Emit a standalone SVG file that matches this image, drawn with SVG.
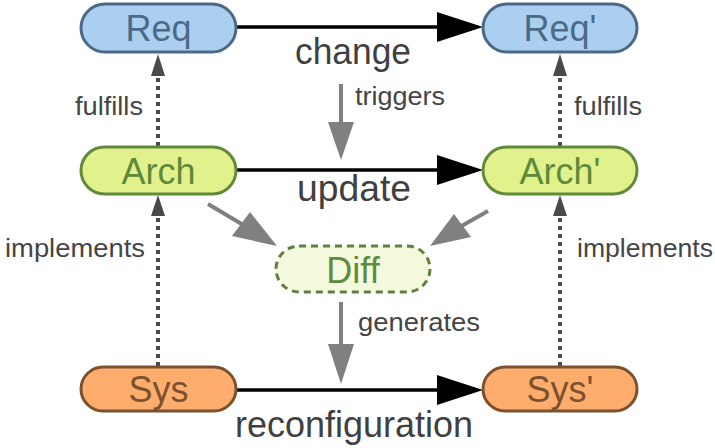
<svg xmlns="http://www.w3.org/2000/svg" width="715" height="448" viewBox="0 0 715 448">
<style>
text{font-family:"Liberation Sans",Arial,sans-serif}
.req rect{fill:#abd0ef;stroke:#4c6a88;stroke-width:3}
.req text{fill:#4c6a88}
.arch rect{fill:#e1f28d;stroke:#628a3c;stroke-width:3}
.arch text{fill:#5e8a3a}
.sys rect{fill:#ffad6d;stroke:#7b5230;stroke-width:3}
.sys text{fill:#7b5230}
.diff rect{fill:#f4f9de;stroke:#5f8040;stroke-width:3;stroke-dasharray:7 5}
.diff text{fill:#5f8c3c}
.nt{font-size:36px;text-anchor:middle}
.big{font-size:36px;fill:#404040;text-anchor:middle}
.sm{font-size:26.5px;fill:#454545}
.blk{stroke:#000;stroke-width:3.5;fill:none}
.dot{stroke:#4a4a4a;stroke-width:4;stroke-dasharray:4 4;fill:none}
.gry{stroke:#808080;stroke-width:4;fill:none}
</style>
<g id="connectors">
<line class="blk" x1="236" y1="27" x2="440" y2="27"/>
<polygon points="437,12 483,27 437,42" fill="#000"/>
<line class="blk" x1="236" y1="170" x2="440" y2="170"/>
<polygon points="437,155 483,170 437,185" fill="#000"/>
<line class="blk" x1="236" y1="390" x2="440" y2="390"/>
<polygon points="437,375 483,390 437,405" fill="#000"/>
<line class="dot" x1="158" y1="146" x2="158" y2="74"/>
<polygon points="151,76 158,54 165,76" fill="#4a4a4a"/>
<line class="dot" x1="158" y1="366" x2="158" y2="214"/>
<polygon points="151,216 158,195 165,216" fill="#4a4a4a"/>
<line class="dot" x1="560" y1="146" x2="560" y2="74"/>
<polygon points="553,76 560,54 567,76" fill="#4a4a4a"/>
<line class="dot" x1="560" y1="366" x2="560" y2="214"/>
<polygon points="553,216 560,195 567,216" fill="#4a4a4a"/>
<line class="gry" x1="341" y1="84" x2="341" y2="126"/>
<polygon points="328,122 341,160 354,122" fill="#808080"/>
<line class="gry" x1="341" y1="302" x2="341" y2="348"/>
<polygon points="328,344 341,384 354,344" fill="#808080"/>
<line class="gry" x1="208" y1="204" x2="245" y2="226"/>
<polygon points="232,236 277,246 250,212" fill="#808080"/>
<line class="gry" x1="488" y1="211" x2="458" y2="228"/>
<polygon points="430,246 471,237 454,214" fill="#808080"/>
</g>
<g id="req" class="req"><rect x="81" y="4" width="155" height="48" rx="24"/><text class="nt" x="158.5" y="41">Req</text></g>
<g id="req2" class="req"><rect x="483" y="4" width="154" height="48" rx="24"/><text class="nt" x="560" y="41">Req'</text></g>
<g id="arch" class="arch"><rect x="81" y="147" width="155" height="47" rx="23.5"/><text class="nt" x="158.5" y="184">Arch</text></g>
<g id="arch2" class="arch"><rect x="483" y="147" width="154" height="47" rx="23.5"/><text class="nt" x="560" y="184">Arch'</text></g>
<g id="diff" class="diff"><rect x="276" y="246" width="154" height="46" rx="23"/><text class="nt" x="353" y="283">Diff</text></g>
<g id="sys" class="sys"><rect x="81" y="367" width="155" height="44" rx="22"/><text class="nt" x="158.5" y="402">Sys</text></g>
<g id="sys2" class="sys"><rect x="483" y="367" width="154" height="44" rx="22"/><text class="nt" x="560" y="402">Sys'</text></g>
<g id="labels">
<text class="big" x="353" y="64" textLength="116" lengthAdjust="spacingAndGlyphs">change</text>
<text class="big" x="354" y="201" textLength="114" lengthAdjust="spacingAndGlyphs">update</text>
<text class="big" x="354" y="437" textLength="238" lengthAdjust="spacingAndGlyphs">reconfiguration</text>
<text class="sm" x="355" y="105" textLength="90" lengthAdjust="spacingAndGlyphs">triggers</text>
<text class="sm" x="358" y="331" textLength="122" lengthAdjust="spacingAndGlyphs">generates</text>
<text class="sm" x="75" y="115" textLength="68" lengthAdjust="spacingAndGlyphs">fulfills</text>
<text class="sm" x="574" y="115" textLength="68" lengthAdjust="spacingAndGlyphs">fulfills</text>
<text class="sm" x="5" y="257" textLength="140" lengthAdjust="spacingAndGlyphs">implements</text>
<text class="sm" x="577" y="257" textLength="136" lengthAdjust="spacingAndGlyphs">implements</text>
</g>
</svg>
